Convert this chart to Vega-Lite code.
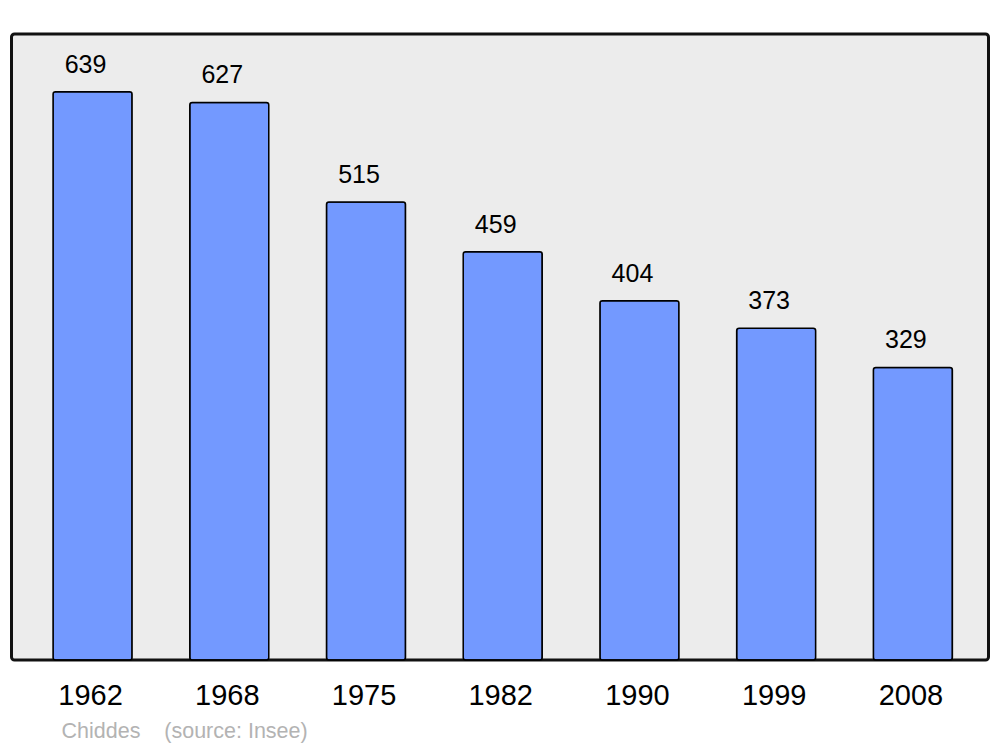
{
  "$schema": "https://vega.github.io/schema/vega-lite/v6.json",
  "width": 977,
  "height": 626,
  "autosize": {"type": "none"},
  "padding": {"left": 11.5, "top": 34, "right": 11.5, "bottom": 87},
  "background": "white",
  "config": {
    "font": "Liberation Sans",
    "view": {"fill": "#ececec", "stroke": "#111111", "strokeWidth": 3, "cornerRadius": 3}
  },
  "data": {
    "values": [
      {"year": "1962", "pop": 639},
      {"year": "1968", "pop": 627},
      {"year": "1975", "pop": 515},
      {"year": "1982", "pop": 459},
      {"year": "1990", "pop": 404},
      {"year": "1999", "pop": 373},
      {"year": "2008", "pop": 329}
    ]
  },
  "encoding": {
    "x": {
      "field": "year",
      "type": "nominal",
      "sort": null,
      "scale": {"paddingInner": 0.422, "paddingOuter": 0.284, "align": 0.535},
      "axis": {
        "domain": false,
        "ticks": false,
        "labelAngle": 0,
        "labelFontSize": 29,
        "labelColor": "black",
        "labelPadding": 21,
        "labelOffset": -2,
        "title": "Chiddes\u00a0\u00a0\u00a0\u00a0(source: Insee)",
        "titleFontSize": 21.5,
        "titleFontWeight": "normal",
        "titleColor": "#b3b3b3",
        "titleAnchor": "start",
        "titleAlign": "left",
        "titleBaseline": "alphabetic",
        "titleX": 49.5,
        "titleY": 77
      }
    },
    "y": {
      "field": "pop",
      "type": "quantitative",
      "scale": {"domain": [0, 704], "nice": false},
      "axis": null
    }
  },
  "layer": [
    {
      "mark": {"type": "bar", "fill": "#7399ff", "stroke": "black", "strokeWidth": 1.5, "cornerRadius": 2.5}
    },
    {
      "mark": {"type": "text", "fontSize": 25, "baseline": "alphabetic", "dy": -19, "dx": -7, "color": "black"},
      "encoding": {"text": {"field": "pop", "type": "quantitative"}}
    }
  ]
}
